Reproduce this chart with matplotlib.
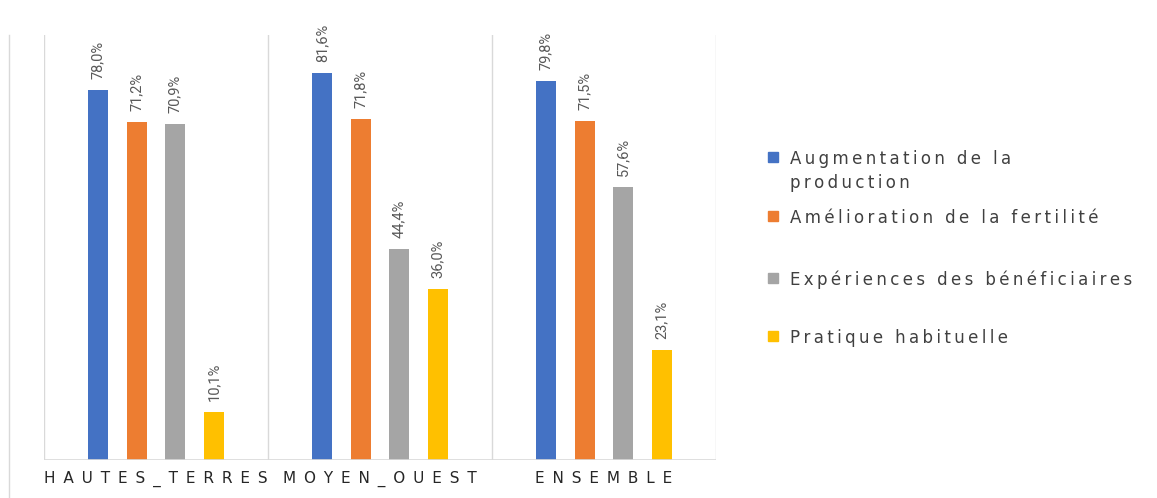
import matplotlib
matplotlib.use("Agg")
import matplotlib.pyplot as plt
from matplotlib.patches import Rectangle
from matplotlib.lines import Line2D
import numpy as np

zones = ["HAUTES_TERRES", "MOYEN_OUEST", "ENSEMBLE"]
series = ["Augmentation de la\nproduction", "Amélioration de la fertilité",
          "Expériences des bénéficiaires", "Pratique habituelle"]
augmentation = [78.0, 81.6, 79.8]
amelioration = [71.2, 71.8, 71.5]
experiences = [70.9, 44.4, 57.6]
pratique = [10.1, 36.0, 23.1]
colors = ["#4472C4", "#ED7D31", "#A5A5A5", "#FFC000"]

values = [augmentation, amelioration, experiences, pratique]

W, H = 1157, 498
fig = plt.figure(figsize=(W / 100, H / 100), dpi=100)
ax = fig.add_axes([44 / W, 38 / H, 672 / W, 425 / H])

x = np.arange(len(zones))
step = 0.172
width = 0.09
for i, (vals, col) in enumerate(zip(values, colors)):
    pos = x + (i - 1.5) * step
    ax.bar(pos, vals, width=width, color=col, zorder=3)
    for px, v in zip(pos, vals):
        ax.annotate(f"{v:.1f}%".replace(".", ","), (px, v), xytext=(0, 8),
                    textcoords="offset points", rotation=90, ha="center",
                    va="bottom", fontsize=10.5, color="#595959",
                    family=["Liberation Sans Narrow", "Roboto", "DejaVu Sans"])

ax.set_xlim(-0.5, 2.5)
ax.set_ylim(0, 89.6)
for b in [-0.5, 0.5, 1.5, 2.5]:
    ax.axvline(b, color="#D9D9D9", lw=1, zorder=1)
for s in ax.spines.values():
    s.set_visible(False)
ax.axhline(0, color="#D9D9D9", lw=1.2, zorder=4)
ax.set_yticks([])
ax.set_xticks(x)
ax.set_xticklabels([" \u2009".join(z) for z in zones], fontsize=11, color="#262626")
ax.tick_params(axis="x", length=0, pad=8)

# thin border on the far left
fig.add_artist(Line2D([9 / W, 9 / W], [0, 463 / H], color="#D9D9D9", lw=1))

# legend drawn by hand: square + letter-spaced label lines
legend_y = [157, 216, 278, 336]
for name, col, y in zip(series, colors, legend_y):
    fig.add_artist(Rectangle((768 / W, (H - y - 5) / H), 10 / W, 10 / H,
                             color=col, transform=fig.transFigure))
    for k, line in enumerate(name.split("\n")):
        fig.text(790 / W, (H - y - 24 * k) / H, "\u2009".join(line),
                 fontsize=12, color="#404040", va="center_baseline", ha="left")

fig.savefig("out.png", dpi=100)
